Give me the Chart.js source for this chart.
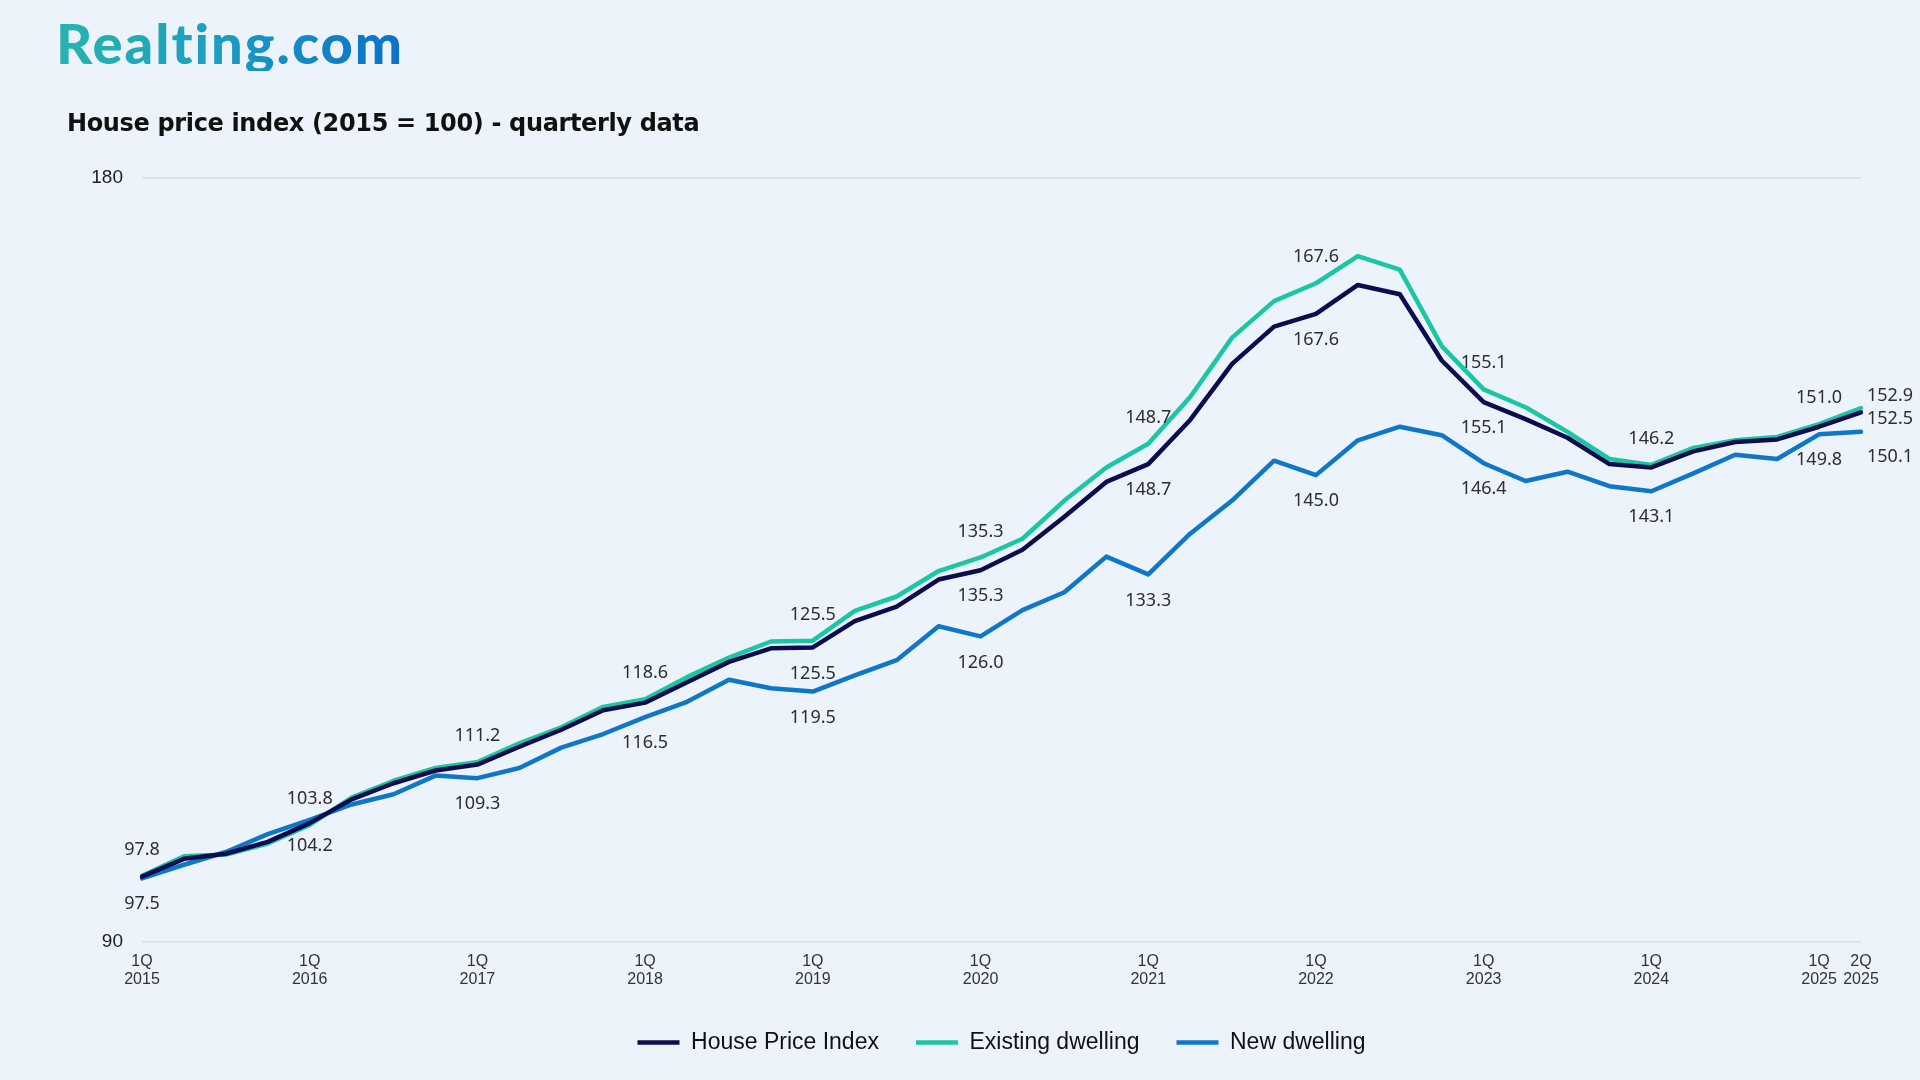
<!DOCTYPE html>
<html>
<head>
<meta charset="utf-8">
<title>House price index</title>
<script src="https://cdn.jsdelivr.net/npm/chart.js@4.4.1/dist/chart.umd.min.js"></script>
<style>
  html, body { margin: 0; padding: 0; background: #edf3fa; }
  body { width: 1920px; height: 1080px; position: relative; overflow: hidden; }
  .logo {
    position: absolute; left: 56px; top: 15px;
    font-family: Lato, sans-serif; font-weight: 900; font-size: 56px; line-height: 56px;
    letter-spacing: 2px;
    background: linear-gradient(90deg, #27b4ae 0%, #1c9fc0 45%, #0a70c9 100%);
    -webkit-background-clip: text; background-clip: text; color: transparent;
  }
  .title {
    position: absolute; left: 67px; top: 108px;
    font-family: "DejaVu Sans", sans-serif; font-weight: 700; font-size: 24px; line-height: 30px;
    letter-spacing: -0.35px;
    color: #111;
  }
  .chart-box { position: absolute; left: 0; top: 0; width: 1920px; height: 1080px; }
</style>
</head>
<body>
<div class="chart-box"><canvas id="hpiChart" width="1920" height="1080"></canvas></div>
<div class="logo">Realting.com</div>
<div class="title">House price index (2015 = 100) - quarterly data</div>

<script>
// quarters 1Q 2015 .. 2Q 2025
const quarters = [
  '1Q 2015', '2Q 2015', '3Q 2015', '4Q 2015',
  '1Q 2016', '2Q 2016', '3Q 2016', '4Q 2016',
  '1Q 2017', '2Q 2017', '3Q 2017', '4Q 2017',
  '1Q 2018', '2Q 2018', '3Q 2018', '4Q 2018',
  '1Q 2019', '2Q 2019', '3Q 2019', '4Q 2019',
  '1Q 2020', '2Q 2020', '3Q 2020', '4Q 2020',
  '1Q 2021', '2Q 2021', '3Q 2021', '4Q 2021',
  '1Q 2022', '2Q 2022', '3Q 2022', '4Q 2022',
  '1Q 2023', '2Q 2023', '3Q 2023', '4Q 2023',
  '1Q 2024', '2Q 2024', '3Q 2024', '4Q 2024',
  '1Q 2025', '2Q 2025'
];

// quarters that get a label on the x axis
const tickQuarters = [
  '1Q 2015', '1Q 2016', '1Q 2017', '1Q 2018', '1Q 2019', '1Q 2020',
  '1Q 2021', '1Q 2022', '1Q 2023', '1Q 2024', '1Q 2025', '2Q 2025'
];

const yTicks = [90, 180];

const housePriceIndex = [
  97.7, 99.8, 100.4, 101.8, 104.0, 106.8, 108.7, 110.2,
  110.9, 113.0, 115.0, 117.3, 118.2, 120.6, 123.0, 124.6,
  124.7, 127.8, 129.5, 132.7, 133.8, 136.2, 140.1, 144.2,
  146.3, 151.5, 158.1, 162.5, 164.0, 167.4, 166.3, 158.5,
  153.6, 151.6, 149.4, 146.3, 145.9, 147.8, 148.9, 149.2,
  150.7, 152.4
];

const existingDwelling = [
  97.8, 100.1, 100.3, 101.6, 103.8, 107.0, 109.0, 110.5,
  111.2, 113.4, 115.3, 117.7, 118.6, 121.2, 123.5, 125.4,
  125.5, 129.0, 130.7, 133.7, 135.3, 137.5, 142.0, 145.9,
  148.7, 154.2, 161.2, 165.5, 167.6, 170.8, 169.2, 160.2,
  155.1, 153.0, 150.1, 146.9, 146.2, 148.2, 149.1, 149.5,
  151.0, 152.9
];

const newDwelling = [
  97.5, 99.1, 100.6, 102.7, 104.4, 106.2, 107.4, 109.6,
  109.3, 110.5, 112.9, 114.5, 116.5, 118.3, 120.9, 119.9,
  119.5, 121.4, 123.2, 127.2, 126.0, 129.1, 131.2, 135.4,
  133.3, 138.1, 142.0, 146.7, 145.0, 149.1, 150.7, 149.7,
  146.4, 144.3, 145.4, 143.7, 143.1, 145.2, 147.4, 146.9,
  149.8, 150.1
];

// value labels as printed on the source chart
const hpiLabels = {
  '1Q 2019': '125.5', '1Q 2020': '135.3', '1Q 2021': '148.7',
  '1Q 2022': '167.6', '1Q 2023': '155.1', '2Q 2025': '152.5'
};
const existingLabels = {
  '1Q 2015': '97.8', '1Q 2016': '103.8', '1Q 2017': '111.2', '1Q 2018': '118.6',
  '1Q 2019': '125.5', '1Q 2020': '135.3', '1Q 2021': '148.7', '1Q 2022': '167.6',
  '1Q 2023': '155.1', '1Q 2024': '146.2', '1Q 2025': '151.0', '2Q 2025': '152.9'
};
const newLabels = {
  '1Q 2015': '97.5', '1Q 2016': '104.2', '1Q 2017': '109.3', '1Q 2018': '116.5',
  '1Q 2019': '119.5', '1Q 2020': '126.0', '1Q 2021': '133.3', '1Q 2022': '145.0',
  '1Q 2023': '146.4', '1Q 2024': '143.1', '1Q 2025': '149.8', '2Q 2025': '150.1'
};

// draws the number labels next to the points
const valueLabelsPlugin = {
  id: 'valueLabels',
  afterDatasetsDraw(chart) {
    const ctx = chart.ctx;
    const last = quarters.length - 1;
    ctx.save();
    ctx.font = '18px "Noto Sans"';
    ctx.fillStyle = '#2e2e2e';
    ctx.textBaseline = 'middle';
    chart.data.datasets.forEach((ds, i) => {
      const meta = chart.getDatasetMeta(i);
      quarters.forEach((q, j) => {
        const txt = ds.valueLabels[q];
        if (!txt) return;
        const pt = meta.data[j];
        if (j === last) {
          ctx.textAlign = 'left';
          ctx.fillText(txt, pt.x + 6, pt.y + ds.endShift);
        } else {
          ctx.textAlign = 'center';
          ctx.fillText(txt, pt.x, pt.y + (ds.labelSide === 'above' ? -26 : 26));
        }
      });
    });
    ctx.restore();
  }
};

const ctx = document.getElementById('hpiChart').getContext('2d');

new Chart(ctx, {
  type: 'line',
  data: {
    labels: quarters,
    datasets: [
      {
        label: 'House Price Index',
        data: housePriceIndex,
        borderColor: '#0d0c4e',
        backgroundColor: '#0d0c4e',
        borderWidth: 4.5,
        valueLabels: hpiLabels,
        labelSide: 'below',
        endShift: 7
      },
      {
        label: 'Existing dwelling',
        data: existingDwelling,
        borderColor: '#1bc6a4',
        backgroundColor: '#1bc6a4',
        borderWidth: 4.5,
        valueLabels: existingLabels,
        labelSide: 'above',
        endShift: -12
      },
      {
        label: 'New dwelling',
        data: newDwelling,
        borderColor: '#0f77c7',
        backgroundColor: '#0f77c7',
        borderWidth: 4.5,
        valueLabels: newLabels,
        labelSide: 'below',
        endShift: 25
      }
    ]
  },
  options: {
    responsive: false,
    animation: false,
    devicePixelRatio: 1,
    elements: {
      line: { tension: 0, borderCapStyle: 'round', borderJoinStyle: 'round' },
      point: { radius: 0, hoverRadius: 0 }
    },
    layout: {
      padding: { top: 178, right: 59, bottom: 16, left: 0 }
    },
    plugins: {
      tooltip: { enabled: false },
      legend: {
        position: 'bottom',
        fullSize: false,
        labels: {
          usePointStyle: true,
          pointStyle: 'line',
          pointStyleWidth: 42,
          padding: 37,
          color: '#111',
          font: { family: '"Liberation Sans"', size: 23 }
        }
      }
    },
    scales: {
      x: {
        grid: { display: false, drawTicks: false },
        border: { display: false },
        afterFit(scale) { scale.height = 52; },
        ticks: {
          autoSkip: false,
          maxRotation: 0,
          minRotation: 0,
          padding: 10,
          color: '#333',
          font: { family: '"Liberation Sans"', size: 16, lineHeight: 1.15 },
          callback(value, index) {
            const q = quarters[index];
            return tickQuarters.includes(q) ? q.split(' ') : '';
          }
        }
      },
      y: {
        min: yTicks[0],
        max: yTicks[yTicks.length - 1],
        afterFit(scale) { scale.width = 142; },
        afterBuildTicks(scale) { scale.ticks = yTicks.map(v => ({ value: v })); },
        grid: { color: '#dadde2', lineWidth: 1.5, drawTicks: false },
        border: { display: false },
        ticks: {
          padding: 19,
          color: '#222',
          font: { family: '"Liberation Sans"', size: 19 }
        }
      }
    }
  },
  plugins: [valueLabelsPlugin]
});
</script>
</body>
</html>
